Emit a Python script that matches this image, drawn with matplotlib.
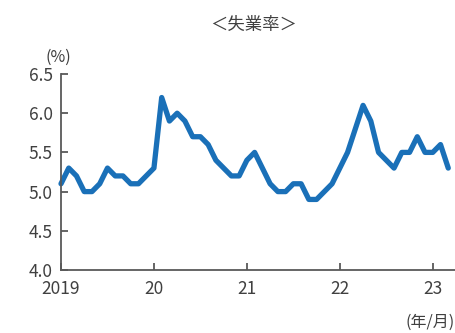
import numpy as np
import matplotlib
matplotlib.use('Agg')
import matplotlib.pyplot as plt

plt.rcParams['font.family'] = ['Noto Sans CJK JP', 'DejaVu Sans']

# monthly unemployment rate, Jan 2019 - Mar 2023
rate_2019 = [5.1, 5.3, 5.2, 5.0, 5.0, 5.1, 5.3, 5.2, 5.2, 5.1, 5.1, 5.2]
rate_2020 = [5.3, 6.2, 5.9, 6.0, 5.9, 5.7, 5.7, 5.6, 5.4, 5.3, 5.2, 5.2]
rate_2021 = [5.4, 5.5, 5.3, 5.1, 5.0, 5.0, 5.1, 5.1, 4.9, 4.9, 5.0, 5.1]
rate_2022 = [5.3, 5.5, 5.8, 6.1, 5.9, 5.5, 5.4, 5.3, 5.5, 5.5, 5.7, 5.5]
rate_2023 = [5.5, 5.6, 5.3]

year_labels = ['2019', '20', '21', '22', '23']
y_ticks = [4.0, 4.5, 5.0, 5.5, 6.0, 6.5]

rate = rate_2019 + rate_2020 + rate_2021 + rate_2022 + rate_2023
months = np.arange(len(rate))

text_color = '#404040'
axis_color = '#595959'

fig = plt.figure(figsize=(4.56, 3.33), dpi=100)
ax = fig.add_axes([61 / 456, 1 - 270 / 333, (456 - 61) / 456, (270 - 74) / 333])

ax.plot(months, rate, color='#1a70b8', lw=3.8, solid_joinstyle='round',
        solid_capstyle='round', clip_on=False)

ax.set_xlim(0, 51)
ax.set_ylim(4.0, 6.5)
ax.set_xticks(np.arange(0, 49, 12))
ax.set_xticklabels(year_labels)
ax.set_yticks(y_ticks)
ax.set_yticklabels(['%.1f' % v for v in y_ticks])

for side in ['top', 'right']:
    ax.spines[side].set_visible(False)
for side in ['left', 'bottom']:
    ax.spines[side].set_color(axis_color)
    ax.spines[side].set_linewidth(1.3)

ax.tick_params(axis='both', direction='in', length=5, width=1.3, color=axis_color,
               labelsize=12.5, labelcolor=text_color)
ax.tick_params(axis='x', pad=7)
ax.tick_params(axis='y', pad=6)

fig.text(254 / 456, 1 - 25 / 333, '＜失業率＞', ha='center', va='center',
         fontsize=12.5, color=text_color)
fig.text(58 / 456, 1 - 57 / 333, '(%)', ha='center', va='center',
         fontsize=11.5, color=text_color)
fig.text(455 / 456, 1 - 322 / 333, '(年/月)', ha='right', va='center',
         fontsize=11.5, color=text_color)

fig.savefig('out.png', dpi=100)
